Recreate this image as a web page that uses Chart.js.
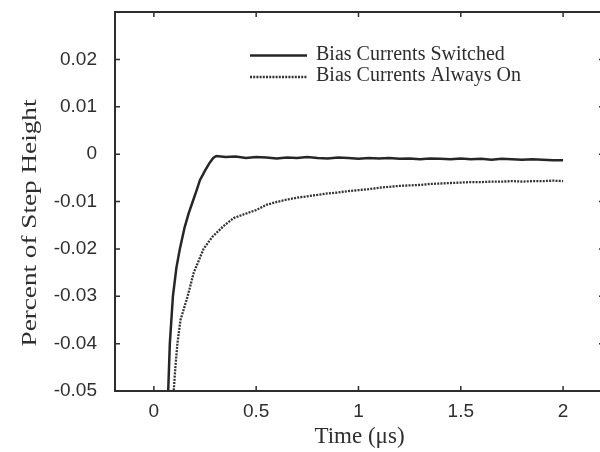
<!DOCTYPE html>
<html>
<head>
<meta charset="utf-8">
<script src="https://cdn.jsdelivr.net/npm/chart.js@4/dist/chart.umd.min.js"></script>
<style>
  html, body { margin: 0; padding: 0; background: #fff; overflow: hidden; }
  #wrap { width: 606px; height: 452px; }
</style>
</head>
<body>
<div id="wrap"><canvas id="stepChart" width="606" height="452"></canvas></div>
<script>
// axis ticks
const xTicks = [0, 0.5, 1, 1.5, 2];
const xTickLabels = ['0', '0.5', '1', '1.5', '2'];
const yTicks = [-0.05, -0.04, -0.03, -0.02, -0.01, 0, 0.01, 0.02];
const yTickLabels = ['-0.05', '-0.04', '-0.03', '-0.02', '-0.01', '0', '0.01', '0.02'];

// Bias Currents Switched
const switchedTime = [0.06, 0.07, 0.078, 0.093, 0.11, 0.127, 0.15, 0.17, 0.19, 0.21, 0.225, 0.25, 0.27, 0.29, 0.305,
  0.35, 0.40, 0.45, 0.50, 0.55, 0.60, 0.65, 0.70, 0.75, 0.80, 0.85, 0.90, 0.95, 1.00, 1.05, 1.10, 1.15, 1.20,
  1.25, 1.30, 1.35, 1.40, 1.45, 1.50, 1.55, 1.60, 1.65, 1.70, 1.75, 1.80, 1.85, 1.90, 1.95, 2.00];
const switchedValue = [-0.06, -0.05, -0.04, -0.03, -0.024, -0.02, -0.0155, -0.0125, -0.0100, -0.0075, -0.0055, -0.0035, -0.0020, -0.0008, -0.0004,
  -0.0006, -0.0005, -0.0008, -0.0006, -0.0007, -0.0009, -0.0007, -0.0008, -0.0006, -0.0008, -0.0009, -0.0007, -0.0008, -0.0010, -0.0008, -0.0009, -0.0008, -0.0010,
  -0.0009, -0.0011, -0.0009, -0.0010, -0.0011, -0.0009, -0.0011, -0.0010, -0.0012, -0.0010, -0.0011, -0.0012, -0.0011, -0.0012, -0.0013, -0.0013];

// Bias Currents Always On
const alwaysTime = [0.09, 0.097, 0.105, 0.115, 0.13, 0.165, 0.195, 0.243, 0.285, 0.34, 0.39, 0.44,
  0.50, 0.55, 0.60, 0.65, 0.70, 0.75, 0.80, 0.85, 0.90, 0.95, 1.00, 1.05, 1.10, 1.15, 1.20, 1.25, 1.30,
  1.35, 1.40, 1.45, 1.50, 1.55, 1.60, 1.65, 1.70, 1.75, 1.80, 1.85, 1.90, 1.95, 2.00];
const alwaysValue = [-0.06, -0.05, -0.045, -0.04, -0.035, -0.03, -0.025, -0.02, -0.0175, -0.0152, -0.0135, -0.0127,
  -0.0118, -0.0107, -0.0101, -0.0096, -0.0092, -0.0089, -0.0086, -0.0083, -0.0081, -0.0078, -0.0076, -0.0074, -0.0071, -0.0069, -0.0067, -0.0066, -0.0065,
  -0.0063, -0.0062, -0.0061, -0.0060, -0.0059, -0.0059, -0.0058, -0.0058, -0.0057, -0.0058, -0.0057, -0.0057, -0.0056, -0.0057];

const seriesLabels = ['Bias Currents Switched', 'Bias Currents Always On'];

const ink = '#2e2e2e';
const serif = '"Liberation Serif", "Times New Roman", serif';
const sans = '"Liberation Sans", Arial, sans-serif';

// box with inward ticks on all four sides, y title and legend
const boxPlugin = {
  id: 'box',
  afterDraw(chart) {
    const { ctx, chartArea: a, scales } = chart;
    ctx.save();
    ctx.strokeStyle = ink;
    ctx.lineWidth = 2;
    ctx.strokeRect(a.left, a.top, a.right - a.left, a.bottom - a.top);
    ctx.lineWidth = 1.5;
    const len = 5;
    ctx.beginPath();
    xTicks.forEach(v => {
      const px = scales.x.getPixelForValue(v);
      ctx.moveTo(px, a.bottom); ctx.lineTo(px, a.bottom - len);
      ctx.moveTo(px, a.top); ctx.lineTo(px, a.top + len);
    });
    yTicks.forEach(v => {
      const py = scales.y.getPixelForValue(v);
      ctx.moveTo(a.left, py); ctx.lineTo(a.left + len, py);
      ctx.moveTo(a.right, py); ctx.lineTo(a.right - len, py);
    });
    ctx.stroke();

    // y title, stretched along the text like the scan
    ctx.save();
    ctx.translate(30, 223);
    ctx.rotate(-Math.PI / 2);
    ctx.font = '21px ' + serif;
    const label = 'Percent of Step Height';
    const w = ctx.measureText(label).width;
    ctx.scale(247 / w, 1);
    ctx.fillStyle = ink;
    ctx.textAlign = 'center';
    ctx.textBaseline = 'middle';
    ctx.fillText(label, 0, 0);
    ctx.restore();

    // legend inside the plot
    const rows = [55.5, 77];
    chart.data.datasets.forEach((ds, i) => {
      ctx.save();
      ctx.strokeStyle = ds.borderColor;
      ctx.lineWidth = ds.borderWidth;
      ctx.setLineDash(ds.borderDash || []);
      ctx.beginPath();
      ctx.moveTo(250, rows[i]);
      ctx.lineTo(307, rows[i]);
      ctx.stroke();
      ctx.restore();
      ctx.fillStyle = ink;
      ctx.font = '20px ' + serif;
      ctx.textAlign = 'left';
      ctx.textBaseline = 'middle';
      ctx.fillText(ds.label, 316, rows[i] - 1);
    });
    ctx.restore();
  }
};

const ctx = document.querySelector('#stepChart').getContext('2d');
new Chart(ctx, {
  type: 'line',
  data: {
    datasets: [{
      label: seriesLabels[0],
      data: switchedTime.map((t, i) => ({ x: t, y: switchedValue[i] })),
      borderColor: '#262626',
      borderWidth: 2.5,
      pointRadius: 0,
      tension: 0
    }, {
      label: seriesLabels[1],
      data: alwaysTime.map((t, i) => ({ x: t, y: alwaysValue[i] })),
      borderColor: '#333333',
      borderWidth: 2.3,
      borderDash: [2, 1.2],
      pointRadius: 0,
      tension: 0
    }]
  },
  options: {
    responsive: false,
    animation: false,
    devicePixelRatio: 1,
    layout: { padding: { top: 12, right: 2, left: 0, bottom: 0 } },
    plugins: { legend: { display: false }, tooltip: { enabled: false } },
    scales: {
      x: {
        type: 'linear',
        min: -0.19,
        max: 2.2,
        afterFit: s => { s.height = 61; s.paddingLeft = 0; s.paddingRight = 0; },
        afterBuildTicks: s => { s.ticks = xTicks.map(v => ({ value: v })); },
        grid: { display: false, drawTicks: false, tickLength: 0 },
        border: { display: false },
        ticks: {
          padding: 9,
          color: ink,
          font: { family: sans, size: 19 },
          callback: (v) => xTickLabels[xTicks.indexOf(v)]
        },
        title: {
          display: true,
          text: 'Time (μs)',
          color: ink,
          font: { family: serif, size: 23 },
          padding: { top: 0, bottom: 1 }
        }
      },
      y: {
        min: -0.05,
        max: 0.03,
        afterFit: s => { s.width = 115; s.paddingTop = 0; s.paddingBottom = 0; },
        afterBuildTicks: s => { s.ticks = yTicks.map(v => ({ value: v })); },
        grid: { display: false, drawTicks: false, tickLength: 0 },
        border: { display: false },
        ticks: {
          padding: 18,
          color: ink,
          font: { family: sans, size: 19 },
          callback: (v) => yTickLabels[yTicks.indexOf(v)]
        }
      }
    }
  },
  plugins: [boxPlugin]
});
</script>
</body>
</html>
